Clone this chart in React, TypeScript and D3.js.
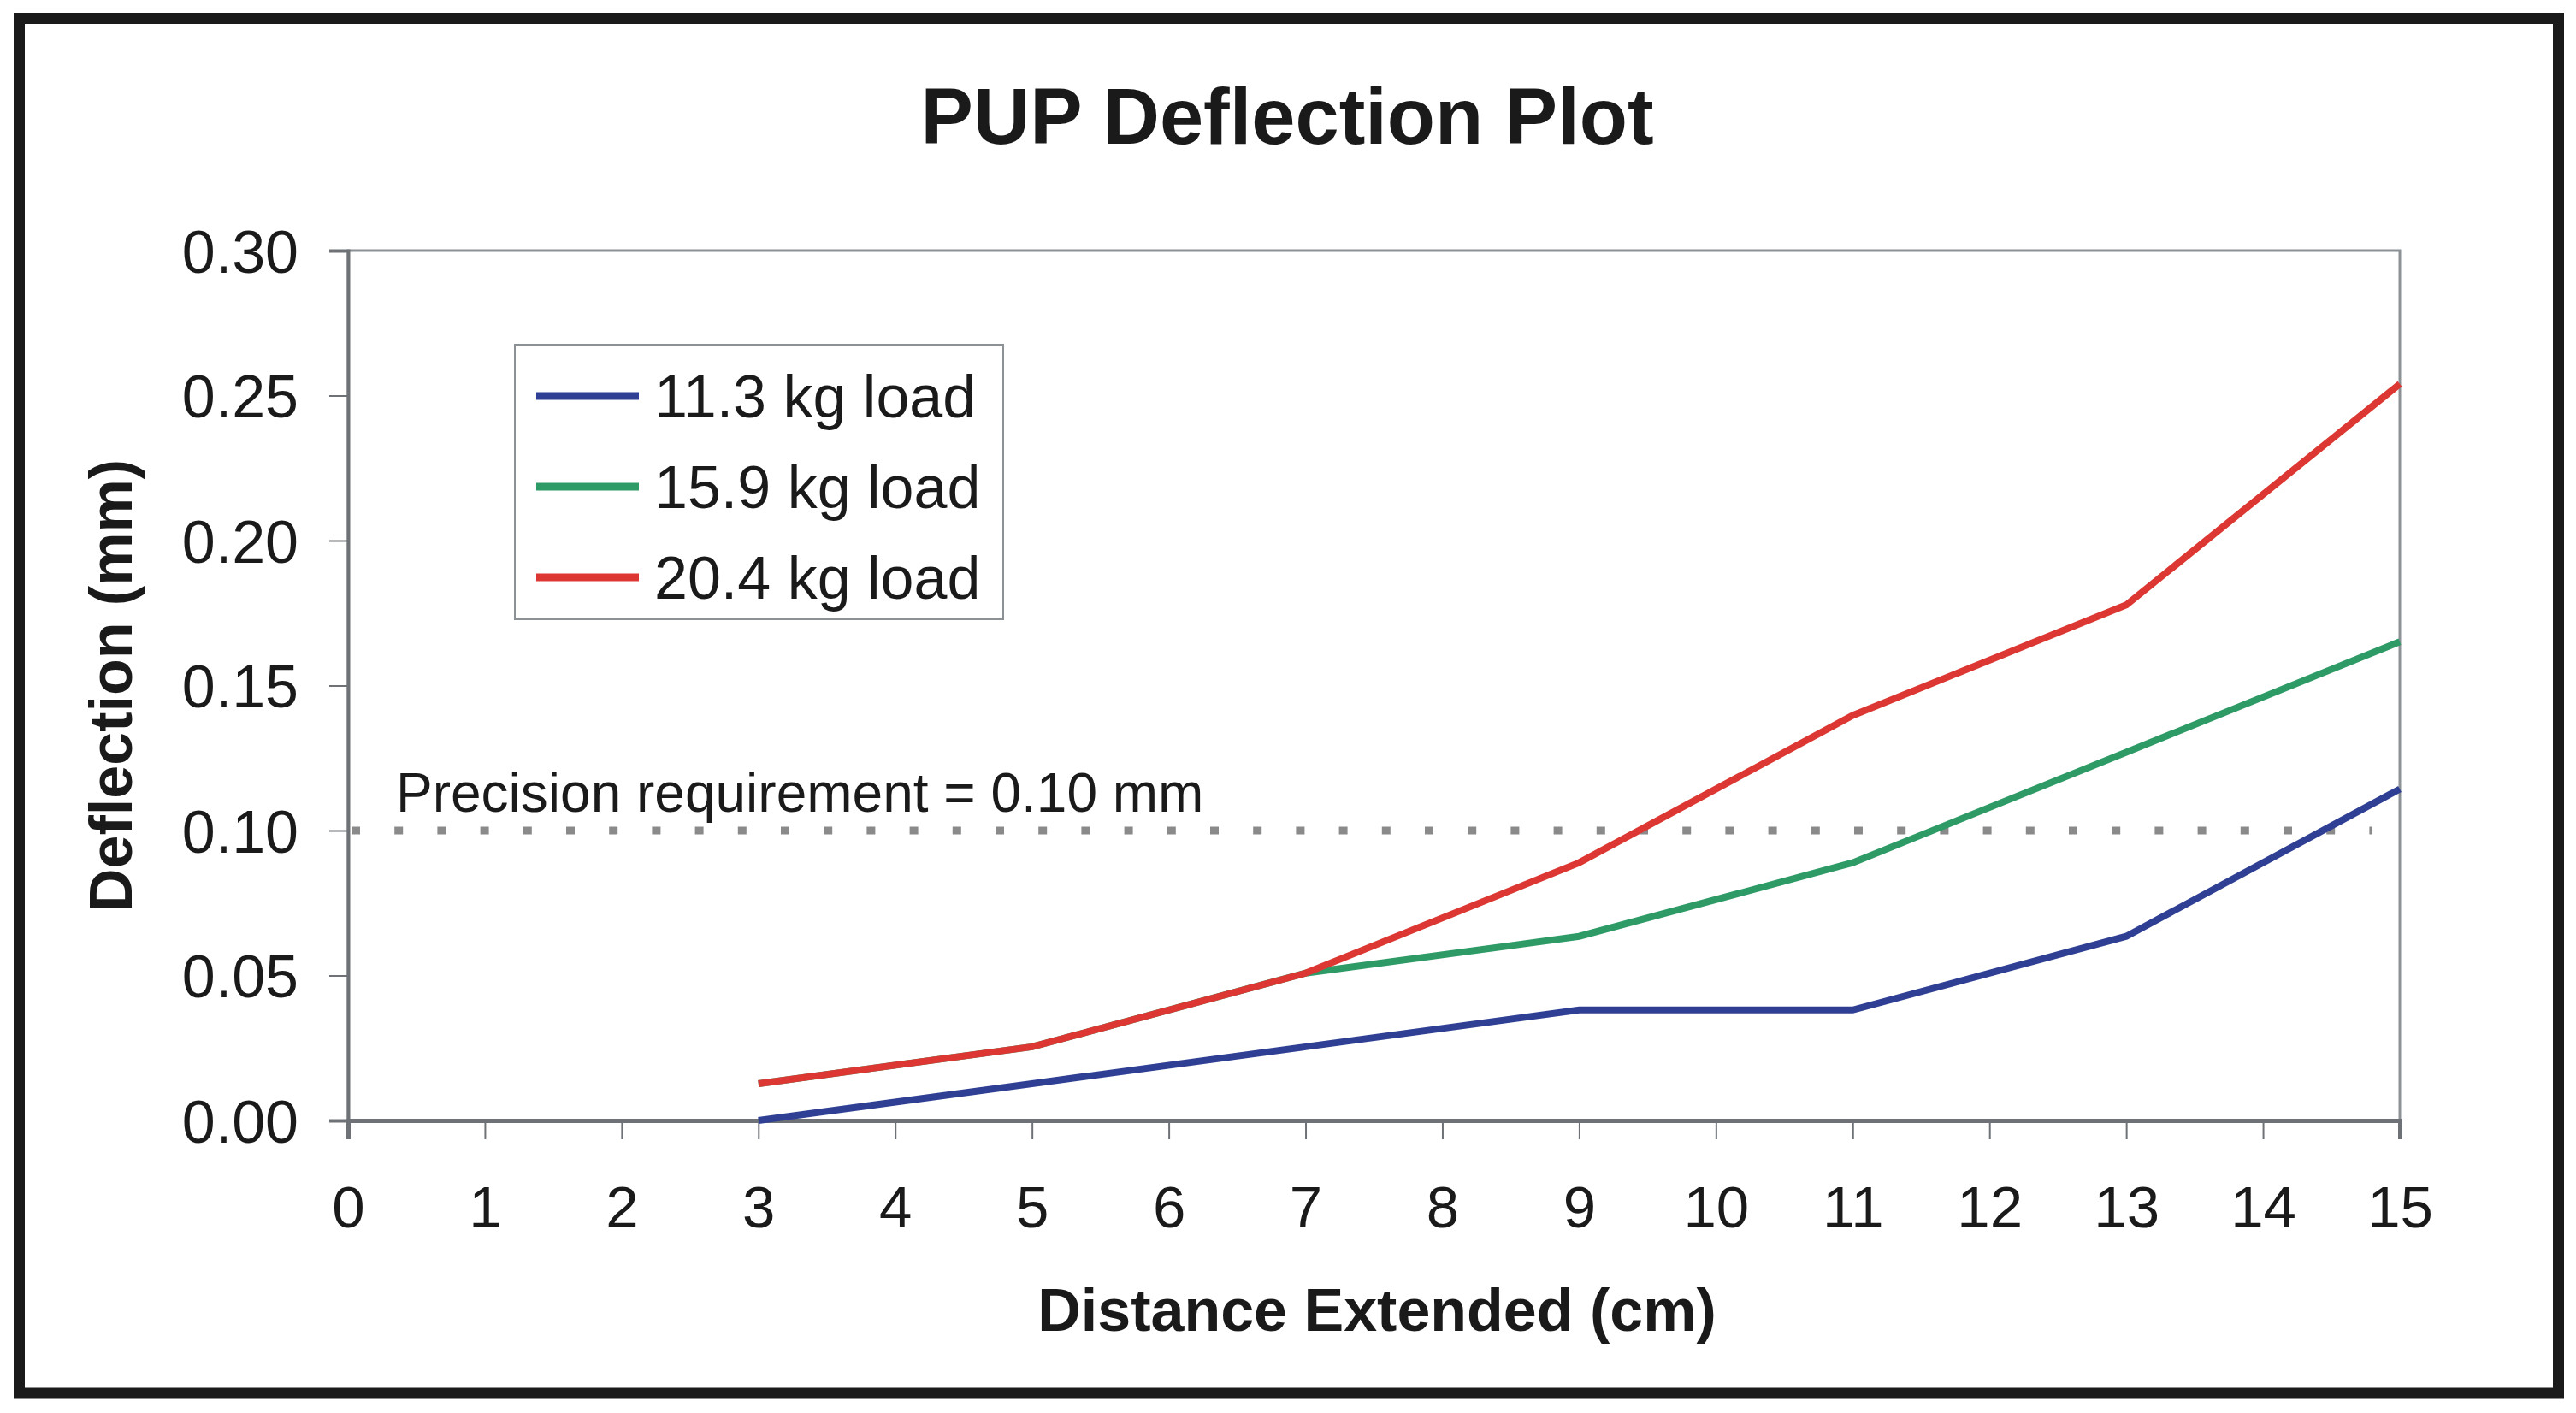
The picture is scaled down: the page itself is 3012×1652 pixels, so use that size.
import React, { useEffect, useRef } from "react";
import * as d3 from "d3";

// distance extended (cm)
const distances = [3, 5, 7, 9, 11, 13, 15];
// deflection (mm) for each load
const load113 = [0, 0.0127, 0.0254, 0.0381, 0.0381, 0.0635, 0.1143];
const load159 = [0.0127, 0.0254, 0.0508, 0.0635, 0.0889, 0.127, 0.1651];
const load204 = [0.0127, 0.0254, 0.0508, 0.0889, 0.1397, 0.1778, 0.254];

const seriesNames = ["11.3 kg load", "15.9 kg load", "20.4 kg load"];
const seriesColors = ["#2f3f93", "#2e9b67", "#dc3732"];

const xTicks = d3.range(0, 16);
const yTicks = [0, 0.05, 0.1, 0.15, 0.2, 0.25, 0.3];
const precision = 0.1;

const FONT = "'Liberation Sans', Arial, sans-serif";

function drawChart(el: SVGSVGElement) {
  const svg = d3.select(el);
  svg.selectAll("*").remove();

  const W = 3012,
    H = 1652;
  const margin = { top: 293, right: W - 2806, bottom: H - 1310, left: 407 };
  const width = W - margin.left - margin.right;
  const height = H - margin.top - margin.bottom;

  svg.append("rect").attr("width", W).attr("height", H).attr("fill", "#fff");

  // outer frame
  svg
    .append("rect")
    .attr("x", 22.5)
    .attr("y", 21.5)
    .attr("width", 2991.5 - 22.5)
    .attr("height", 1629 - 21.5)
    .attr("fill", "none")
    .attr("stroke", "#1a1a1a")
    .attr("stroke-width", 13);

  // title
  svg
    .append("text")
    .attr("x", 1505)
    .attr("y", 168)
    .attr("text-anchor", "middle")
    .style("font-family", FONT)
    .style("font-weight", "bold")
    .style("font-size", "92px")
    .attr("fill", "#1a1a1a")
    .text("PUP Deflection Plot");

  const g = svg
    .append("g")
    .attr("transform", `translate(${margin.left},${margin.top})`);

  const x = d3.scaleLinear().domain([0, 15]).range([0, width]);
  const y = d3.scaleLinear().domain([0, 0.3]).range([height, 0]);

  // plot area border
  g.append("rect")
    .attr("width", width)
    .attr("height", height)
    .attr("fill", "none")
    .attr("stroke", "#8c9196")
    .attr("stroke-width", 3);

  // Y axis
  const yAxis = g
    .append("g")
    .call(
      d3
        .axisLeft(y)
        .tickValues(yTicks)
        .tickSize(22)
        .tickPadding(36)
        .tickFormat(d3.format(".2f"))
    );
  yAxis.select(".domain").attr("stroke", "#6e7276").attr("stroke-width", 4);
  yAxis.selectAll(".tick line").attr("stroke", "#6e7276").attr("stroke-width", 2);
  yAxis
    .selectAll(".tick text")
    .attr("fill", "#1a1a1a")
    .attr("dy", "0.36em")
    .style("font-family", FONT)
    .style("font-size", "70px");

  // X axis
  const xAxis = g
    .append("g")
    .attr("transform", `translate(0,${height})`)
    .call(
      d3.axisBottom(x).tickValues(xTicks).tickSize(22).tickPadding(0).tickFormat(d3.format("d"))
    );
  xAxis.select(".domain").attr("stroke", "#6e7276").attr("stroke-width", 5);
  xAxis.selectAll(".tick line").attr("stroke", "#6e7276").attr("stroke-width", 2);
  xAxis
    .selectAll(".tick text")
    .attr("fill", "#1a1a1a")
    .attr("y", 125)
    .attr("dy", 0)
    .style("font-family", FONT)
    .style("font-size", "69px");

  // axis titles
  svg
    .append("text")
    .attr("x", 1610)
    .attr("y", 1556)
    .attr("text-anchor", "middle")
    .style("font-family", FONT)
    .style("font-weight", "bold")
    .style("font-size", "70px")
    .attr("fill", "#1a1a1a")
    .text("Distance Extended (cm)");

  svg
    .append("text")
    .attr("transform", `translate(154,${margin.top + height / 2}) rotate(-90)`)
    .attr("text-anchor", "middle")
    .style("font-family", FONT)
    .style("font-weight", "bold")
    .style("font-size", "70px")
    .attr("fill", "#1a1a1a")
    .text("Deflection (mm)");

  // precision requirement line
  g.append("line")
    .attr("x1", x(0) + 4)
    .attr("x2", x(14.8))
    .attr("y1", y(precision))
    .attr("y2", y(precision))
    .attr("stroke", "#8a8a8a")
    .attr("stroke-width", 9)
    .attr("stroke-dasharray", "10 40.2");

  g.append("text")
    .attr("x", 56)
    .attr("y", y(precision) - 22)
    .style("font-family", FONT)
    .style("font-size", "64px")
    .attr("fill", "#1a1a1a")
    .text("Precision requirement = 0.10 mm");

  // series lines
  const series = [load113, load159, load204];
  const line = d3
    .line<number>()
    .x((_, i) => x(distances[i]))
    .y((d) => y(d));

  series.forEach((vals, i) => {
    g.append("path")
      .datum(vals)
      .attr("d", line)
      .attr("fill", "none")
      .attr("stroke", seriesColors[i])
      .attr("stroke-width", 8);
  });

  // legend
  const legend = svg.append("g").attr("transform", "translate(602,403)");
  legend
    .append("rect")
    .attr("width", 571)
    .attr("height", 321)
    .attr("fill", "#fff")
    .attr("stroke", "#8c9196")
    .attr("stroke-width", 2);

  const items = legend
    .selectAll("g.item")
    .data(seriesNames)
    .enter()
    .append("g")
    .attr("class", "item")
    .attr("transform", (_, i) => `translate(0,${60 + i * 106})`);

  items
    .append("line")
    .attr("x1", 25)
    .attr("x2", 145)
    .attr("stroke", (_, i) => seriesColors[i])
    .attr("stroke-width", 9);

  items
    .append("text")
    .attr("x", 163)
    .attr("dy", "0.36em")
    .style("font-family", FONT)
    .style("font-size", "70px")
    .attr("fill", "#1a1a1a")
    .text((d) => d);
}

export default function App() {
  const ref = useRef<SVGSVGElement>(null);

  useEffect(() => {
    if (ref.current) drawChart(ref.current);
  }, []);

  return (
    <svg
      ref={ref}
      width={3012}
      height={1652}
      style={{ position: "absolute", left: 0, top: 0, display: "block" }}
    />
  );
}
